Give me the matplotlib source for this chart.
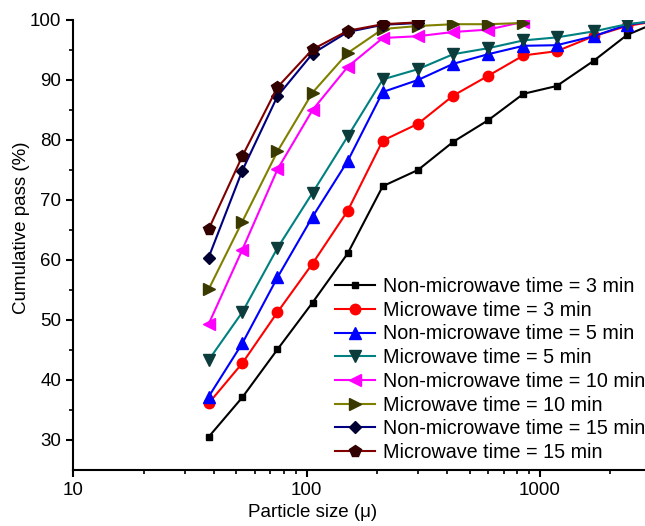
import matplotlib
matplotlib.use('Agg')
import matplotlib.pyplot as plt
from matplotlib.ticker import FixedLocator, NullFormatter

plt.rcParams['font.family'] = ['Liberation Sans', 'DejaVu Sans']

# sieve sizes (micron)
sizes = [38, 53, 75, 106, 150, 212, 300, 425, 600, 850, 1180, 1700, 2360, 3350]

nm_3 = [30.5, 37.1, 45.1, 52.9, 61.1, 72.3, 75.0, 79.7, 83.3, 87.7, 89.0, 93.2, 97.5, 100]
mw_3 = [36.1, 42.8, 51.3, 59.4, 68.2, 79.9, 82.7, 87.4, 90.7, 94.1, 94.8, 97.3, 99.0, 100]
nm_5 = [37.2, 46.1, 57.1, 67.2, 76.5, 88.0, 90.0, 92.7, 94.3, 95.7, 95.8, 97.3, 99.2, 100]
mw_5 = [43.3, 51.3, 62.0, 71.2, 80.6, 90.1, 91.8, 94.3, 95.3, 96.6, 97.1, 98.1, 99.3, 100]
nm_10 = [49.3, 61.7, 75.1, 85.0, 92.2, 97.0, 97.3, 98.0, 98.4, 99.7]
mw_10 = [55.1, 66.4, 78.1, 87.9, 94.5, 98.5, 99.0, 99.3, 99.3, 99.5]
nm_15 = [60.4, 74.9, 87.3, 94.4, 98.0, 99.2, 99.5]
mw_15 = [65.1, 77.3, 88.8, 95.1, 98.2, 99.3, 99.6]

labels = ['Non-microwave time = 3 min', 'Microwave time = 3 min',
          'Non-microwave time = 5 min', 'Microwave time = 5 min',
          'Non-microwave time = 10 min', 'Microwave time = 10 min',
          'Non-microwave time = 15 min', 'Microwave time = 15 min']

series = [nm_3, mw_3, nm_5, mw_5, nm_10, mw_10, nm_15, mw_15]
# line colour, marker face colour, marker, size
styles = [('black', 'black', 's', 5),
          ('#ff0000', '#ff0000', 'o', 7.5),
          ('#0000ff', '#0000ff', '^', 8.5),
          ('#008080', '#0c3c3c', 'v', 8.5),
          ('#ff00ff', '#ff00ff', '<', 8.5),
          ('#808000', '#3a3a00', '>', 8.5),
          ('#000080', '#000033', 'D', 6.5),
          ('#800000', '#330000', 'p', 8.5)]

fig = plt.figure(figsize=(6.45, 5.26), dpi=100)
ax = fig.add_axes([73.3 / 645, 1 - 470 / 526, 1 - 73.3 / 645, 450 / 526])

for y, lab, (lc, mc, mk, ms) in zip(series, labels, styles):
    ax.plot(sizes[:len(y)], y, color=lc, lw=1.5, marker=mk, ms=ms,
            mfc=mc, mec=mc, label=lab)

ax.set_xscale('log')
ax.set_xlim(10, 2820)
ax.set_ylim(25, 100)
ax.set_yticks(range(30, 101, 10))
ax.yaxis.set_minor_locator(FixedLocator(range(35, 100, 10)))
ax.xaxis.set_major_locator(FixedLocator([10, 100, 1000]))
ax.xaxis.set_minor_locator(FixedLocator([k * 10 ** e for e in (1, 2, 3) for k in range(2, 10)]))
ax.xaxis.set_minor_formatter(NullFormatter())
ax.set_xticklabels(['10', '100', '1000'])

ax.spines['top'].set_visible(False)
ax.spines['right'].set_visible(False)
ax.spines['left'].set_linewidth(1.5)
ax.spines['bottom'].set_linewidth(1.5)
ax.tick_params(which='major', direction='out', length=5, width=1.5, labelsize=13.5)
ax.tick_params(which='minor', direction='out', length=3, width=1.2)

ax.set_xlabel('Particle size (μ)', fontsize=13.5)
ax.set_ylabel('Cumulative pass (%)', fontsize=13.5)
ax.xaxis.set_label_coords(0.419, -0.075)
ax.yaxis.set_label_coords(-0.075, 0.538)

ax.legend(loc='upper left', bbox_to_anchor=(335 / 645, 1 - 277 / 526),
          bbox_transform=fig.transFigure, frameon=False, fontsize=14.2,
          handlelength=2.03, handletextpad=0.38, labelspacing=0.24,
          borderpad=0, borderaxespad=0)

fig.savefig('out.png', dpi=100)
